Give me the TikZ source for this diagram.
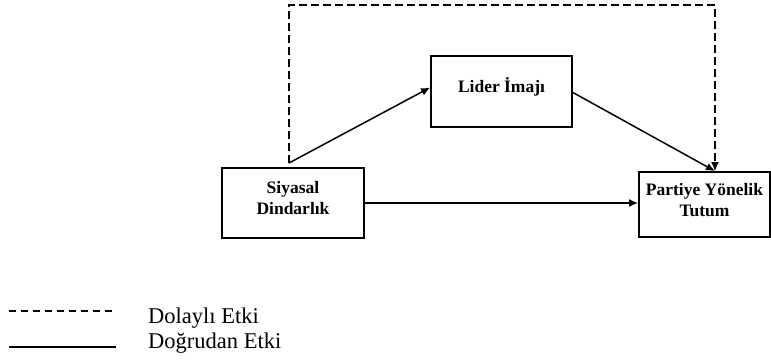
\documentclass[tikz,border=0pt]{standalone}
\usepackage{fontspec}
\setmainfont{Liberation Serif}
\usetikzlibrary{arrows.meta}

\tikzset{
  kutu/.style={draw=black, line width=1.8pt, minimum width=#1, inner sep=0pt},
  etiket/.style={align=center, font=\bfseries\fontsize{17.5}{21}\selectfont},
  ok/.style={line width=1.5pt, -{Latex[length=9pt,width=8pt]}},
  aciklama/.style={anchor=base west, inner sep=0pt, font=\fontsize{22.5}{24}\selectfont}
}

\begin{document}
\begin{tikzpicture}[x=1pt,y=-1pt]
    \useasboundingbox (0,0) rectangle (771,360);

    \node[kutu=142pt, minimum height=70pt] (siyasal) at (293,203) {};
    \node[kutu=141pt, minimum height=71pt] (lider) at (501.5,91.5) {};
    \node[kutu=131pt, minimum height=65pt] (partiye) at (704.5,204.5) {};

    \node[etiket] (siyasalyazi) at ([yshift=5pt]siyasal.center) {Siyasal\\Dindarlık};
    \node[etiket] (lideryazi) at ([yshift=5pt]lider.center) {Lider İmajı};
    \node[etiket] (partiyeyazi) at ([yshift=4pt]partiye.center) {Partiye Yönelik\\Tutum};

    \coordinate (cikis) at (289,163);
    \coordinate (varis) at ([xshift=10.5pt]partiye.north);

    \draw[ok] (cikis) -- ([yshift=4pt]lider.west);
    \draw[ok] ([yshift=-1pt]lider.east) -- (varis);
    \draw[ok] (siyasal.east) -- (siyasal.east -| partiye.west);
    \draw[ok, dash pattern=on 8pt off 4pt] (cikis) -- ++(0,-158) -| (varis);

    \coordinate (k1) at (9,310.7);
    \coordinate (k2) at (116,310.7);
    \coordinate (d1) at (9,347);
    \coordinate (d2) at (116,347);
    \draw[line width=1.6pt, dash pattern=on 7pt off 5pt] (k1) -- (k2);
    \draw[line width=1.3pt] (d1) -- (d2);
    \node[aciklama] (dolayli) at (148,323) {Dolaylı Etki};
    \node[aciklama] (dogrudan) at (148,348) {Doğrudan Etki};
\end{tikzpicture}
\end{document}
